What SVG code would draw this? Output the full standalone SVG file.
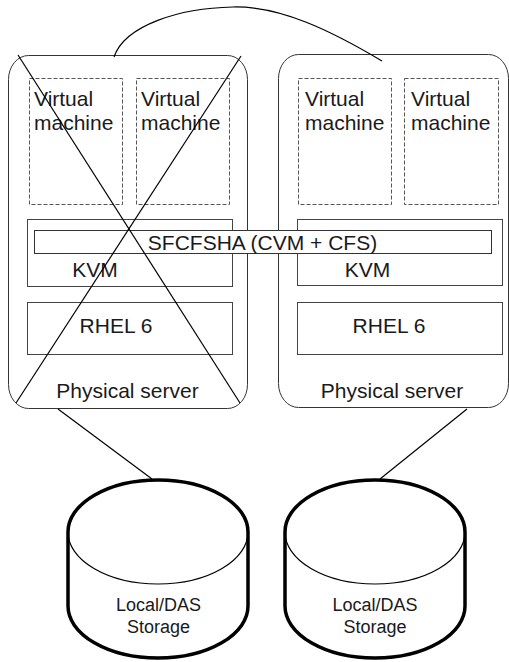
<svg xmlns="http://www.w3.org/2000/svg" width="509" height="662" viewBox="0 0 509 662">
<style>
.server{fill:#fff;stroke:#333;stroke-width:1}
.vm{fill:none;stroke:#555;stroke-width:1;stroke-dasharray:4,2}
.layer{fill:none;stroke:#444;stroke-width:1}
.t{font-family:"Liberation Sans",Arial,sans-serif;font-size:21px;fill:#1a1a1a}
.s{font-family:"Liberation Sans",Arial,sans-serif;font-size:18px;fill:#1a1a1a;text-anchor:middle}
.mid{text-anchor:middle}
.cyl{fill:#fff;stroke:#000;stroke-width:3.5}
.cin{fill:none;stroke:#000;stroke-width:1.2}
.conn{fill:none;stroke:#000;stroke-width:1.2}
</style>
<rect width="509" height="662" fill="#fff"/>
<g id="server1">
<rect class="server" x="8.5" y="55.5" width="239" height="353" rx="20" ry="24"/>
<rect class="vm" x="29.5" y="78.5" width="93" height="126"/>
<text class="t" x="34" y="106">Virtual</text>
<text class="t" x="34" y="130">machine</text>
<rect class="vm" x="136.5" y="78.5" width="93" height="126"/>
<text class="t" x="141" y="106">Virtual</text>
<text class="t" x="141" y="130">machine</text>
<rect class="layer" x="27.5" y="219.5" width="205" height="67"/>
<text class="t mid" x="95" y="277">KVM</text>
<rect class="layer" x="27.5" y="302.5" width="205" height="52"/>
<text class="t mid" x="116" y="333">RHEL 6</text>
<text class="t mid" x="127.5" y="398">Physical server</text>
</g>
<g id="server2">
<rect class="server" x="278.5" y="54.5" width="230" height="353" rx="20" ry="24"/>
<rect class="vm" x="298.5" y="78.5" width="93" height="126"/>
<text class="t" x="305" y="106">Virtual</text>
<text class="t" x="305" y="130">machine</text>
<rect class="vm" x="404.5" y="78.5" width="94" height="126"/>
<text class="t" x="411" y="106">Virtual</text>
<text class="t" x="411" y="130">machine</text>
<rect class="layer" x="297.5" y="219.5" width="205" height="66"/>
<text class="t mid" x="367.5" y="277">KVM</text>
<rect class="layer" x="297.5" y="302.5" width="205" height="52"/>
<text class="t mid" x="389" y="333">RHEL 6</text>
<text class="t mid" x="392" y="398">Physical server</text>
</g>
<g id="sfcfsha">
<rect x="34.5" y="230.5" width="457" height="23" fill="#fff" stroke="#333" stroke-width="1"/>
<text class="t mid" x="262.5" y="250">SFCFSHA (CVM + CFS)</text>
</g>
<g id="storage1">
<path class="cyl" d="M68,532 L68,606 A90,52 0 0 0 248,606 L248,532 A90,52 0 0 0 68,532 Z"/>
<path class="cin" d="M68,532 A90,52 0 0 0 248,532"/>
<text class="s" x="158.5" y="611">Local/DAS</text>
<text class="s" x="158.5" y="633">Storage</text>
</g>
<g id="storage2">
<path class="cyl" d="M285,532 L285,606 A90,52 0 0 0 465,606 L465,532 A90,52 0 0 0 285,532 Z"/>
<path class="cin" d="M285,532 A90,52 0 0 0 465,532"/>
<text class="s" x="375" y="611">Local/DAS</text>
<text class="s" x="375" y="633">Storage</text>
</g>
<g id="connectors">
<path class="conn" d="M114,57 C125,25 180,8 233,7 C280,6 330,30 382,61" stroke-width="1.5"/>
<line class="conn" x1="58" y1="409" x2="152" y2="479"/>
<line class="conn" x1="467" y1="409" x2="380" y2="479"/>
<line class="conn" x1="18" y1="55" x2="240" y2="403" stroke-width="1.5"/>
<line class="conn" x1="241" y1="56" x2="16" y2="403" stroke-width="1.5"/>
</g>
</svg>
